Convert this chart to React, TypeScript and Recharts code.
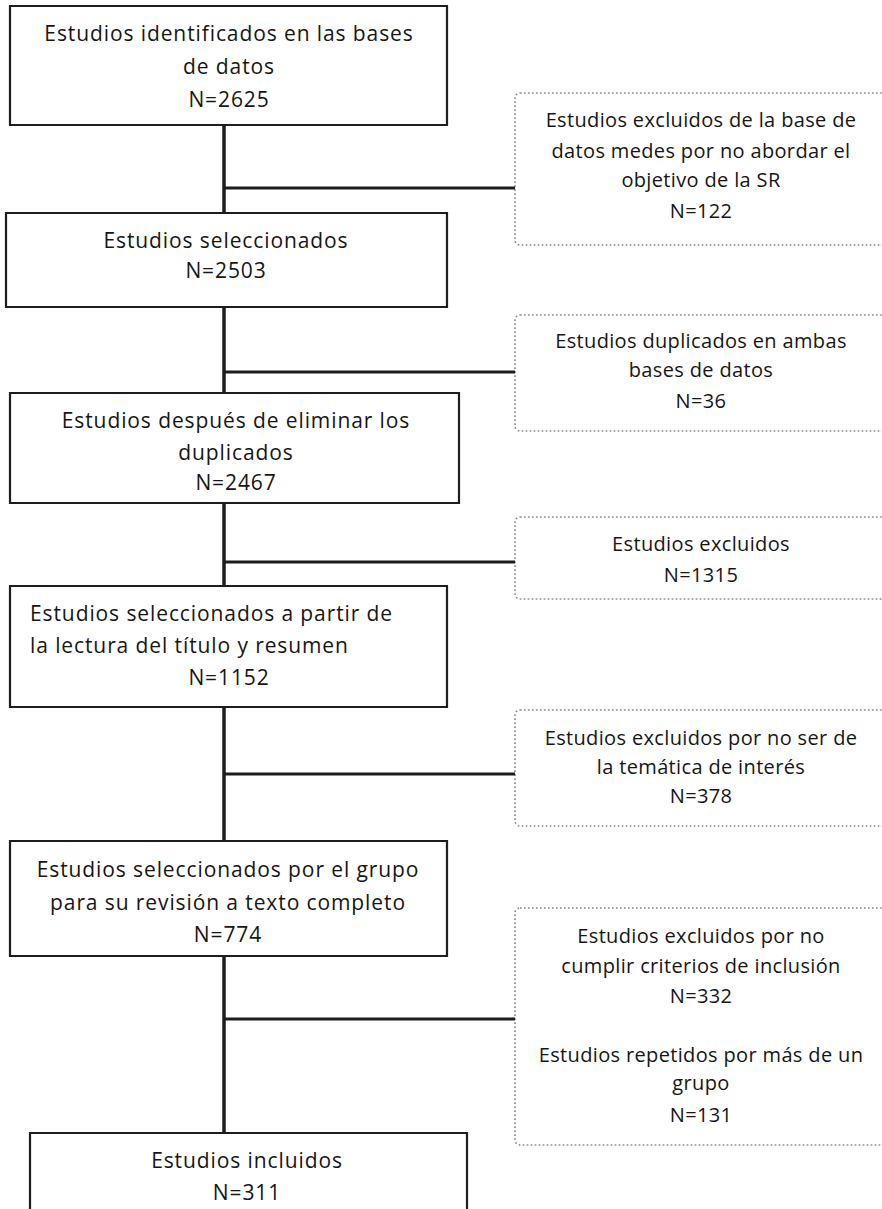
import React from 'react';
import {
  ComposedChart,
  XAxis,
  YAxis,
  Scatter,
  ReferenceArea,
  ReferenceLine,
} from 'recharts';

// flow steps (left column)
const stepLabels = [
  ['Estudios identificados en las bases', 'de datos'],
  ['Estudios seleccionados'],
  ['Estudios después de eliminar los', 'duplicados'],
  ['Estudios seleccionados a partir de', 'la lectura del título y resumen'],
  ['Estudios seleccionados por el grupo', 'para su revisión a texto completo'],
  ['Estudios incluidos'],
];
const stepCounts = [2625, 2503, 2467, 1152, 774, 311];

// exclusions (right column), the last box holds two groups
const exclusionLabels = [
  ['Estudios excluidos de la base de', 'datos medes por no abordar el', 'objetivo de la SR'],
  ['Estudios duplicados en ambas', 'bases de datos'],
  ['Estudios excluidos'],
  ['Estudios excluidos por no ser de', 'la temática de interés'],
  ['Estudios excluidos por no', 'cumplir criterios de inclusión'],
  ['Estudios repetidos por más de un', 'grupo'],
];
const exclusionCounts = [122, 36, 1315, 378, 332, 131];

// layout (pixel space of the picture)
const W = 882;
const H = 1209;
const stepBoxes = [
  { x1: 10, x2: 447, y1: 6, y2: 125, cx: 229, base: [41, 74, 107] },
  { x1: 6, x2: 447, y1: 213, y2: 307, cx: 226, base: [248, 278] },
  { x1: 10, x2: 459, y1: 393, y2: 503, cx: 236, base: [428, 460, 490] },
  { x1: 10, x2: 447, y1: 586, y2: 707, cx: 229, base: [621, 653, 685], left: 30 },
  { x1: 10, x2: 447, y1: 841, y2: 956, cx: 228, base: [877, 910, 942] },
  { x1: 30, x2: 467, y1: 1133, y2: 1240, cx: 247, base: [1168, 1200] },
];
const exclusionBoxes = [
  { y1: 93, y2: 245, link: 188 },
  { y1: 315, y2: 431, link: 372 },
  { y1: 517, y2: 599, link: 562 },
  { y1: 710, y2: 826, link: 774 },
  { y1: 908, y2: 1145, link: 1019 },
];
const exclusionBase = [
  [127, 158, 187, 218],
  [348, 377, 408],
  [551, 582],
  [745, 774, 803],
  [943, 973, 1003],
  [1062, 1090, 1122],
];
const exX1 = 515;
const exX2 = 900;
const exCx = 701;
const spineX = 224;

type TextItem = { x: number; y: number; text: string; anchor: string; kind: string };

const textItems: TextItem[] = [];
stepLabels.forEach((lines, i) => {
  const b = stepBoxes[i];
  const all = [...lines, `N=${stepCounts[i]}`];
  all.forEach((t, j) => {
    const isLabel = j < lines.length && b.left !== undefined;
    textItems.push({
      x: isLabel ? (b.left as number) : b.cx,
      y: b.base[j],
      text: t,
      anchor: isLabel ? 'start' : 'middle',
      kind: 'step',
    });
  });
});
exclusionLabels.forEach((lines, i) => {
  const all = [...lines, `N=${exclusionCounts[i]}`];
  all.forEach((t, j) => {
    textItems.push({ x: exCx, y: exclusionBase[i][j], text: t, anchor: 'middle', kind: 'ex' });
  });
});

const TextShape = (props: any) => {
  const p = props.payload as TextItem;
  const ex = p.kind === 'ex';
  return (
    <text
      x={props.cx}
      y={props.cy}
      textAnchor={p.anchor}
      fontFamily="'Open Sans', sans-serif"
      fontSize={ex ? 20 : 21}
      letterSpacing={ex ? 0.35 : 0.9}
      fill="#161616"
    >
      {p.text}
    </text>
  );
};

const DottedRect = (props: any) => (
  <rect
    x={props.x}
    y={props.y}
    width={props.width}
    height={props.height}
    rx={5}
    ry={5}
    fill="#ffffff"
    stroke="#8a8a8a"
    strokeWidth={1.6}
    strokeDasharray="1.6 2.4"
  />
);

export default function App() {
  return (
    <div style={{ width: W, height: H, background: '#fff' }}>
      <style>{'body{margin:0}'}</style>
      <ComposedChart
        width={W}
        height={H}
        margin={{ top: 0, right: 0, bottom: 0, left: 0 }}
        data={textItems}
      >
        <XAxis type="number" dataKey="x" domain={[0, W]} hide allowDataOverflow />
        <YAxis type="number" dataKey="y" domain={[0, H]} reversed hide allowDataOverflow />

        {stepBoxes.slice(1).map((b, i) => (
          <ReferenceLine
            key={`v${i}`}
            segment={[{ x: spineX, y: stepBoxes[i].y2 }, { x: spineX, y: b.y1 }]}
            stroke="#1c1c1c"
            strokeWidth={3.5}
            ifOverflow="visible"
          />
        ))}
        {exclusionBoxes.map((b, i) => (
          <ReferenceLine
            key={`l${i}`}
            segment={[{ x: spineX, y: b.link }, { x: exX1, y: b.link }]}
            stroke="#1c1c1c"
            strokeWidth={3}
            ifOverflow="visible"
          />
        ))}

        {stepBoxes.map((b, i) => (
          <ReferenceArea
            key={`s${i}`}
            x1={b.x1}
            x2={b.x2}
            y1={b.y1}
            y2={b.y2}
            fill="#ffffff"
            fillOpacity={1}
            stroke="#1e1e1e"
            strokeWidth={2.2}
            ifOverflow="visible"
          />
        ))}
        {exclusionBoxes.map((b, i) => (
          <ReferenceArea
            key={`e${i}`}
            x1={exX1}
            x2={exX2}
            y1={b.y1}
            y2={b.y2}
            ifOverflow="visible"
            shape={DottedRect}
          />
        ))}

        <Scatter
          data={textItems}
          dataKey="y"
          shape={TextShape}
          isAnimationActive={false}
        />
      </ComposedChart>
    </div>
  );
}
